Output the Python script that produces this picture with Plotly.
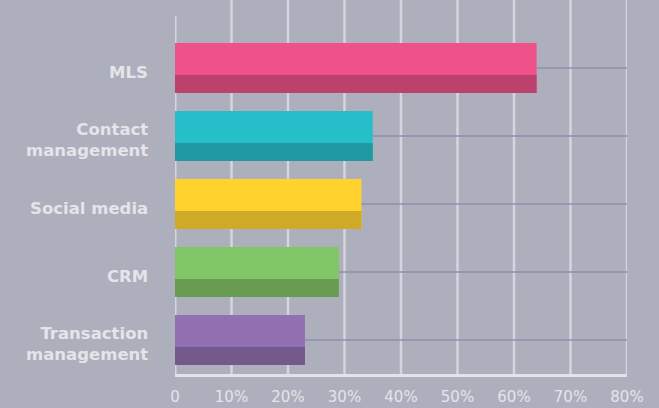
import plotly.graph_objects as go

# Share of respondents using each tool (%)
categories = ["MLS", "Contact management", "Social media", "CRM", "Transaction management"]
tick_labels = ["MLS", "Contact<br>management", "Social media", "CRM", "Transaction<br>management"]
values = [64, 35, 33, 29, 23]

light_colors = ["#ee5289", "#26bfc9", "#ffd22e", "#80c566", "#9270b2"]
dark_colors = ["#bc426d", "#1f9aa2", "#cfaa26", "#679c51", "#74598d"]

x_ticks = [0, 10, 20, 30, 40, 50, 60, 70, 80]
x_tick_text = ["0", "10%", "20%", "30%", "40%", "50%", "60%", "70%", "80%"]
x_max = 80

BG = "#aeafbd"
LABEL = "#e4e4ea"

fig = go.Figure()

# Upper (lighter) face of each bar
fig.add_trace(go.Bar(
    x=values, y=categories, orientation="h",
    marker=dict(color=light_colors, line=dict(width=0)),
    width=0.735, offset=-0.3676,
    hoverinfo="x+y", showlegend=False,
))
# Lower (darker) band of each bar
fig.add_trace(go.Bar(
    x=values, y=categories, orientation="h",
    marker=dict(color=dark_colors, line=dict(width=0)),
    width=0.2647, offset=0.103,
    hoverinfo="skip", showlegend=False,
))

# Thin guide lines from the end of each bar to the right edge
for cat, v in zip(categories, values):
    fig.add_trace(go.Scatter(
        x=[v, x_max], y=[cat, cat], mode="lines",
        line=dict(color="#8b8fab", width=1.3),
        hoverinfo="skip", showlegend=False,
    ))

shapes = []
# Vertical grid lines reaching the top of the figure
for t in x_ticks[1:]:
    shapes.append(dict(
        type="line", xref="x", yref="paper", x0=t, x1=t, y0=0, y1=1,
        line=dict(color="rgba(226,226,232,0.75)", width=2.5), layer="below",
    ))
# Left axis line
shapes.append(dict(
    type="line", xref="x", yref="y", x0=0, x1=0, y0=4.5, y1=-0.765,
    line=dict(color="rgba(222,222,228,0.8)", width=3), layer="below",
))

# Category labels, right-aligned left of the plot, sitting slightly low
annotations = [
    dict(
        x=0, xref="paper", y=cat, yref="y", text=lbl, showarrow=False,
        xanchor="right", yanchor="middle", align="right",
        xshift=-25, yshift=-4,
        font=dict(family="DejaVu Sans", size=16.5, color=LABEL, weight="bold"),
    )
    for cat, lbl in zip(categories, tick_labels)
]

fig.update_layout(
    width=659, height=408,
    margin=dict(l=175, r=32, t=0, b=34),
    paper_bgcolor=BG, plot_bgcolor=BG,
    barmode="overlay",
    shapes=shapes,
    annotations=annotations,
    xaxis=dict(
        range=[0, x_max], tickvals=x_ticks, ticktext=x_tick_text,
        showgrid=False, zeroline=False,
        showline=True, linecolor="#e2e2e8", linewidth=3,
        ticks="", ticklabelstandoff=7,
        tickfont=dict(family="DejaVu Sans", size=15, color=LABEL),
        fixedrange=True,
    ),
    yaxis=dict(
        type="category", categoryorder="array", categoryarray=categories,
        range=[4.5, -1.0],
        showticklabels=False,
        showgrid=False, zeroline=False, showline=False, ticks="",
        fixedrange=True,
    ),
    font=dict(family="DejaVu Sans"),
)

fig.write_html("out.html")
